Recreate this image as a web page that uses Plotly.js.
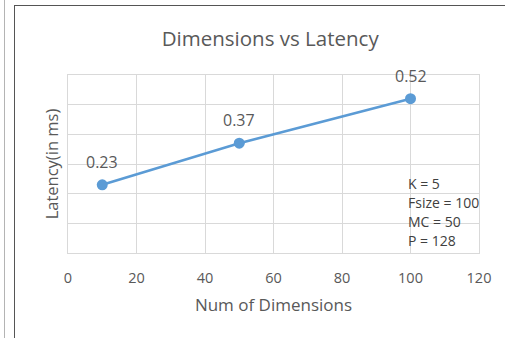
<!DOCTYPE html>
<html>
<head>
<meta charset="utf-8">
<script src="https://cdn.plot.ly/plotly-3.0.1.min.js"></script>
<style>
html,body{margin:0;padding:0;background:#fff;}
#wrap{position:relative;width:505px;height:338px;overflow:hidden;}
#chart{position:absolute;left:0;top:0;width:505px;height:338px;}
.ln{position:absolute;}
</style>
</head>
<body>
<div id="wrap">
<div id="chart"></div>
<div class="ln" style="left:4px;top:0;width:1px;height:338px;background:#b4b4b4;"></div>
<div class="ln" style="left:14px;top:5px;width:1px;height:333px;background:#555;"></div>
<div class="ln" style="left:14px;top:5px;width:491px;height:1px;background:#555;"></div>
</div>
<script>
const dimensions = [10, 50, 100];
const latency = [0.23, 0.37, 0.52];
const labels = ['0.23', '0.37', '0.52'];
const xTicks = [0, 20, 40, 60, 80, 100, 120];
const paramLines = ['K = 5', 'Fsize = 100', 'MC = 50', 'P = 128'];

const FONT = '"Open Sans", sans-serif';
const GREY = '#595959';

const annotations = dimensions.map((d, i) => ({
  x: d, y: latency[i], xref: 'x', yref: 'y',
  text: labels[i], showarrow: false, yshift: 23,
  font: {family: FONT, size: 16, color: GREY}
}));
paramLines.forEach((t, i) => annotations.push({
  x: 100, y: 0.235, xref: 'x', yref: 'y', xanchor: 'left', yanchor: 'middle',
  xshift: -5, yshift: -19 * i, align: 'left', showarrow: false,
  text: t,
  font: {family: FONT, size: 14, color: '#404040'}
}));

Plotly.newPlot('chart', [{
  x: dimensions, y: latency, type: 'scatter', mode: 'lines+markers',
  line: {color: '#5B9BD5', width: 2.5},
  marker: {color: '#5B9BD5', size: 11},
  hoverinfo: 'none'
}], {
  width: 505, height: 338,
  margin: {l: 67.5, r: 26, t: 75, b: 85},
  paper_bgcolor: 'rgba(0,0,0,0)', plot_bgcolor: '#fff',
  showlegend: false,
  title: {text: 'Dimensions vs Latency', x: 0.535, xanchor: 'center', y: 0.885, yanchor: 'middle',
          font: {family: FONT, size: 20.5, color: GREY}},
  xaxis: {range: [0, 120], tickvals: xTicks, ticktext: xTicks.map(String),
          showgrid: true, gridcolor: '#d9d9d9', gridwidth: 1, zeroline: false,
          showline: true, linecolor: '#d9d9d9', mirror: true, ticks: '',
          ticklabelstandoff: 12,
          tickfont: {family: FONT, size: 14.5, color: GREY},
          title: {text: 'Num of Dimensions', standoff: 12, font: {family: FONT, size: 17, color: GREY}}},
  yaxis: {range: [0, 0.6], dtick: 0.1, showticklabels: false,
          showgrid: true, gridcolor: '#d9d9d9', gridwidth: 1, zeroline: false,
          showline: true, linecolor: '#d9d9d9', mirror: true, ticks: '',
          title: {text: 'Latency(in ms)', standoff: 4, font: {family: FONT, size: 16.5, color: GREY}}},
  annotations: annotations
}, {displayModeBar: false, staticPlot: true});
</script>
</body>
</html>
